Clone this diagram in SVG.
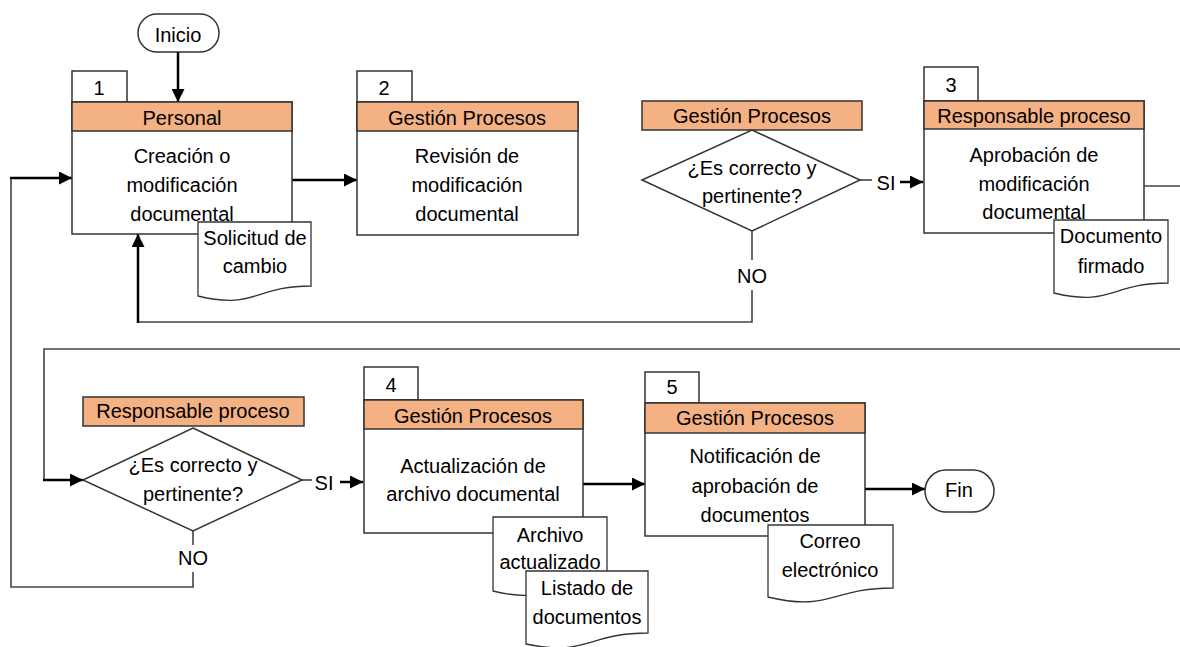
<svg xmlns="http://www.w3.org/2000/svg" width="1180" height="647" viewBox="0 0 1180 647">
  <style>
    text { font-family: "Liberation Sans", Arial, sans-serif; font-size: 20px; fill: #000; text-anchor: middle; }
    .box { fill: #fff; stroke: #333; stroke-width: 1.5; }
    .hdr { fill: #F4B183; stroke: #333; stroke-width: 1.5; }
    .doc { fill: #fff; stroke: #333; stroke-width: 1.3; }
    .flow { fill: none; stroke: #000; stroke-width: 2.5; marker-end: url(#arrow); }
    .thin { fill: none; stroke: #444; stroke-width: 1.6; }
  </style>
  <defs>
    <marker id="arrow" viewBox="0 0 10 10" refX="10" refY="5" markerUnits="userSpaceOnUse" markerWidth="13" markerHeight="13" orient="auto">
      <path d="M0,0 L10,5 L0,10 Z" fill="#000"/>
    </marker>
  </defs>
  <rect width="1180" height="647" fill="#fff"/>

  <!-- connectors -->
  <g id="connectors">
    <path class="flow" d="M178,52 V102"/>
    <path class="flow" d="M292,180 H357"/>
    <path class="thin" d="M860,180 H872"/>
    <path class="flow" d="M900,182 H923"/>
    <path class="thin" d="M752,231 V260"/>
    <path class="thin" d="M752,290 V322 H138"/>
    <path class="flow" d="M138,323 V234"/>
    <path class="thin" d="M1144,186 H1180"/>
    <path class="thin" d="M1180,349 H44 V480"/>
    <path class="flow" d="M43,480 H83"/>
    <path class="thin" d="M302,480 H312"/>
    <path class="flow" d="M340,482 H363"/>
    <path class="thin" d="M193,531 V545"/>
    <path class="thin" d="M193,572 V587 H11 V178"/>
    <path class="flow" d="M10,178 H72"/>
    <path class="flow" d="M583,484 H645"/>
    <path class="flow" d="M865,489 H925"/>
    <text x="886" y="190">SI</text>
    <text x="752" y="283">NO</text>
    <text x="324" y="490">SI</text>
    <text x="193" y="565">NO</text>
  </g>

  <!-- start -->
  <g id="inicio">
    <rect class="box" x="138" y="14" width="81" height="38" rx="19"/>
    <text x="178" y="42">Inicio</text>
  </g>

  <!-- step 1 -->
  <g id="step1">
    <rect class="box" x="72" y="71" width="55" height="31"/>
    <text x="99" y="95">1</text>
    <rect class="box" x="72" y="102" width="220" height="132"/>
    <rect class="hdr" x="72" y="102" width="220" height="29"/>
    <text x="182" y="125">Personal</text>
    <text x="182" y="163">Creación o</text>
    <text x="182" y="192">modificación</text>
    <text x="182" y="221">documental</text>
  </g>
  <g id="doc-solicitud">
    <path class="doc" d="M198,222 H311 V286 C254.5,286 254.5,310 198,296 Z"/>
    <text x="255" y="245">Solicitud de</text>
    <text x="255" y="273">cambio</text>
  </g>

  <!-- step 2 -->
  <g id="step2">
    <rect class="box" x="357" y="71" width="55" height="31"/>
    <text x="384" y="95">2</text>
    <rect class="box" x="357" y="102" width="221" height="133"/>
    <rect class="hdr" x="357" y="102" width="221" height="29"/>
    <text x="467" y="125">Gestión Procesos</text>
    <text x="467" y="163">Revisión de</text>
    <text x="467" y="192">modificación</text>
    <text x="467" y="221">documental</text>
  </g>

  <!-- decision 1 -->
  <g id="decision1">
    <rect class="hdr" x="642" y="101" width="220" height="29"/>
    <text x="752" y="123">Gestión Procesos</text>
    <polygon class="box" points="752,130 860,180 752,231 642,180"/>
    <text x="752" y="175">¿Es correcto y</text>
    <text x="752" y="203">pertinente?</text>
  </g>

  <!-- step 3 -->
  <g id="step3">
    <rect class="box" x="924" y="67" width="54" height="34"/>
    <text x="951" y="92">3</text>
    <rect class="box" x="924" y="101" width="220" height="132"/>
    <rect class="hdr" x="924" y="101" width="220" height="28"/>
    <text x="1034" y="123">Responsable proceso</text>
    <text x="1034" y="162">Aprobación de</text>
    <text x="1034" y="191">modificación</text>
    <text x="1034" y="219">documental</text>
  </g>
  <g id="doc-firmado">
    <path class="doc" d="M1054,220 H1168 V283 C1111,283 1111,307 1054,293 Z"/>
    <text x="1111" y="243">Documento</text>
    <text x="1111" y="273">firmado</text>
  </g>

  <!-- decision 2 -->
  <g id="decision2">
    <rect class="hdr" x="83" y="397" width="221" height="29"/>
    <text x="193" y="418">Responsable proceso</text>
    <polygon class="box" points="193,428 302,480 193,531 83,480"/>
    <text x="193" y="472">¿Es correcto y</text>
    <text x="193" y="501">pertinente?</text>
  </g>

  <!-- step 4 -->
  <g id="step4">
    <rect class="box" x="364" y="367" width="54" height="33"/>
    <text x="391" y="392">4</text>
    <rect class="box" x="364" y="400" width="219" height="133"/>
    <rect class="hdr" x="364" y="400" width="219" height="29"/>
    <text x="473" y="423">Gestión Procesos</text>
    <text x="473" y="473">Actualización de</text>
    <text x="473" y="501">archivo documental</text>
  </g>
  <g id="doc-archivo">
    <path class="doc" d="M493,517 H607 V581 C550,581 550,605 493,591 Z"/>
    <text x="550" y="542">Archivo</text>
    <text x="550" y="569">actualizado</text>
  </g>
  <g id="doc-listado">
    <path class="doc" d="M526,571 H648 V633 C587,633 587,657 526,644 Z"/>
    <text x="587" y="595">Listado de</text>
    <text x="587" y="624">documentos</text>
  </g>

  <!-- step 5 -->
  <g id="step5">
    <rect class="box" x="645" y="372" width="54" height="31"/>
    <text x="672" y="394">5</text>
    <rect class="box" x="645" y="403" width="220" height="133"/>
    <rect class="hdr" x="645" y="403" width="220" height="30"/>
    <text x="755" y="425">Gestión Procesos</text>
    <text x="755" y="463">Notificación de</text>
    <text x="755" y="493">aprobación de</text>
    <text x="755" y="522">documentos</text>
  </g>
  <g id="doc-correo">
    <path class="doc" d="M768,525 H893 V588 C830.5,588 830.5,612 768,597 Z"/>
    <text x="830" y="548">Correo</text>
    <text x="830" y="577">electrónico</text>
  </g>

  <!-- end -->
  <g id="fin">
    <rect class="box" x="925" y="470" width="69" height="42" rx="21"/>
    <text x="959" y="497">Fin</text>
  </g>
</svg>
